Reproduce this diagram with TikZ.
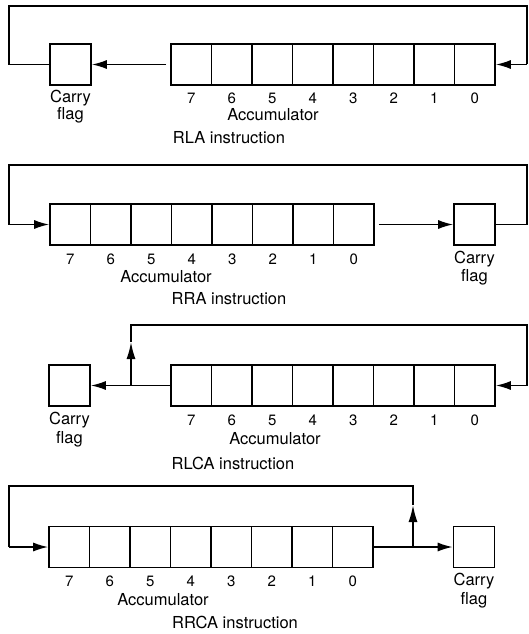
\documentclass[tikz,border=0pt]{standalone}
\usepackage{fontspec}
\setmainfont{TeX Gyre Heros}
\usetikzlibrary{arrows.meta}
\begin{document}
\begin{tikzpicture}[x=1pt,y=-1pt,
  cell/.style={draw,line width=1.6pt,minimum width=40.5pt,minimum height=41pt,inner sep=0pt},
  flagbox/.style={draw,line width=1.6pt,minimum width=41pt,minimum height=41pt,inner sep=0pt},
  wire/.style={line width=1.6pt},
  arr/.style={line width=1.6pt,-{Latex[length=15pt,width=9pt]}},
  midarr/.style={line width=1.6pt,-{Latex[length=17pt,width=9pt]}},
  digit/.style={font=\fontsize{15}{17}\selectfont,inner sep=0pt},
  lbl/.style={font=\fontsize{16.5}{18}\selectfont,inner sep=0pt}]
\useasboundingbox (0,0) rectangle (528,634);

% ---------- RLA ----------
\node[flagbox] (cf1) at (70.5,64.5) {};
\foreach \b [count=\i from 0] in {7,6,5,4,3,2,1,0} {
  \node[cell] (a1b\b) at (171+20.25+40.5*\i,64.5) {};
  \node[digit] (d1b\b) at (171+20.25+40.5*\i,98) {\b};
}
\node[lbl] (cf1t) at (70.5,98) {Carry};
\node[lbl] (cf1f) at (70.5,115) {flag};
\node[lbl] (acc1) at (273,115) {Accumulator};
\node[lbl] (ins1) at (229,138) {RLA instruction};
\coordinate (l1b) at (9,64.5);
\coordinate (l1t) at (9,6);
\coordinate (r1t) at (527,6);
\coordinate (r1b) at (527,64.5);
\draw[arr] ([xshift=-4pt]a1b7.west) -- (cf1.east);
\draw[wire] (cf1.west) -- (l1b) -- (l1t) -- (r1t) -- (r1b);
\draw[arr] (r1b) -- (a1b0.east);

% ---------- RRA ----------
\foreach \b [count=\i from 0] in {7,6,5,4,3,2,1,0} {
  \node[cell] (a2b\b) at (50+20.25+40.5*\i,224.5) {};
  \node[digit] (d2b\b) at (50+20.25+40.5*\i,259) {\b};
}
\node[flagbox] (cf2) at (474.5,224.5) {};
\node[lbl] (cf2t) at (474.5,259) {Carry};
\node[lbl] (cf2f) at (474.5,277) {flag};
\node[lbl] (acc2) at (166,277) {Accumulator};
\node[lbl] (ins2) at (229,299) {RRA instruction};
\coordinate (l2b) at (9,224.5);
\coordinate (l2t) at (9,165);
\coordinate (r2t) at (527,165);
\coordinate (r2b) at (527,224.5);
\draw[arr] ([xshift=4pt]a2b0.east) -- (cf2.west);
\draw[wire] (cf2.east) -- (r2b) -- (r2t) -- (l2t) -- (l2b);
\draw[arr] (l2b) -- (a2b7.west);

% ---------- RLCA ----------
\node[flagbox] (cf3) at (69.5,385.5) {};
\foreach \b [count=\i from 0] in {7,6,5,4,3,2,1,0} {
  \node[cell] (a3b\b) at (171+20.25+40.5*\i,385.5) {};
  \node[digit] (d3b\b) at (171+20.25+40.5*\i,420) {\b};
}
\node[lbl] (cf3t) at (69.5,420) {Carry};
\node[lbl] (cf3f) at (69.5,439) {flag};
\node[lbl] (acc3) at (275,439) {Accumulator};
\node[lbl] (ins3) at (233,463) {RLCA instruction};
\coordinate (j3) at (131,385.5);
\coordinate (m3) at (131,342);
\coordinate (l3t) at (131,325);
\coordinate (r3t) at (527,325);
\coordinate (r3b) at (527,385.5);
\draw[arr] (a3b7.west) -- (cf3.east);
\draw[midarr] (j3) -- (m3);
\draw[wire] (m3) -- (l3t) -- (r3t) -- (r3b);
\draw[arr] (r3b) -- (a3b0.east);

% ---------- RRCA ----------
\foreach \b [count=\i from 0] in {7,6,5,4,3,2,1,0} {
  \node[cell] (a4b\b) at (49+20.25+40.5*\i,547) {};
  \node[digit] (d4b\b) at (49+20.25+40.5*\i,581) {\b};
}
\node[flagbox] (cf4) at (474,547) {};
\node[lbl] (cf4t) at (474,581) {Carry};
\node[lbl] (cf4f) at (474,600) {flag};
\node[lbl] (acc4) at (163,600) {Accumulator};
\node[lbl] (ins4) at (235,622) {RRCA instruction};
\coordinate (j4) at (413,547);
\coordinate (m4) at (413,505);
\coordinate (r4t) at (413,486);
\coordinate (l4t) at (9,486);
\coordinate (l4b) at (9,547);
\draw[arr] (a4b0.east) -- (cf4.west);
\draw[midarr] (j4) -- (m4);
\draw[wire] (m4) -- (r4t) -- (l4t) -- (l4b);
\draw[arr] (l4b) -- (a4b7.west);
\end{tikzpicture}
\end{document}
